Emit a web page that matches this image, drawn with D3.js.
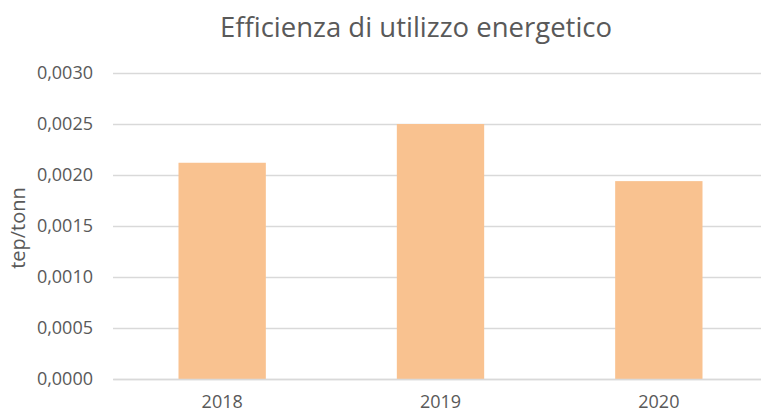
<!DOCTYPE html>
<html>
<head>
<meta charset="utf-8">
<script src="https://cdn.jsdelivr.net/npm/d3@7"></script>
<style>
  html, body { margin: 0; padding: 0; background: #fff; }
  svg { display: block; }
  text { font-family: "Open Sans", sans-serif; fill: #595959; }
</style>
</head>
<body>
<svg id="chart" width="761" height="412"></svg>
<script>
const categories = ["2018", "2019", "2020"];
const values = [0.00212, 0.00250, 0.00194];
const yTicks = [0, 0.0005, 0.0010, 0.0015, 0.0020, 0.0025, 0.0030];
const title = "Efficienza di utilizzo energetico";
const yLabel = "tep/tonn";

const svg = d3.select("#chart");
const mLeft = 113, mRight = 768, mTop = 73, mBottom = 379;

const x = d3.scaleBand().domain(categories).range([mLeft, mRight]).paddingInner(0.6).paddingOuter(0.3);
const y = d3.scaleLinear().domain([0, 0.003]).range([mBottom, mTop]);
const fmt = v => v.toFixed(4).replace(".", ",");

// gridlines
svg.append("g")
  .attr("transform", `translate(${mLeft},0)`)
  .call(d3.axisLeft(y).tickValues(yTicks).tickSize(-(mRight - mLeft)).tickFormat(""))
  .call(g => g.select(".domain").remove())
  .call(g => g.selectAll("line").attr("stroke", "#d9d9d9").attr("stroke-width", 1.3));

// y tick labels
svg.append("g")
  .attr("transform", `translate(${mLeft - 20},0)`)
  .call(d3.axisLeft(y).tickValues(yTicks).tickSize(0).tickPadding(0).tickFormat(fmt))
  .call(g => g.select(".domain").remove())
  .call(g => g.selectAll("text").style("font-size", "18px").attr("fill", "#595959").attr("font-family", "Open Sans"));

// bars
svg.append("g").selectAll("rect").data(categories).join("rect")
  .attr("x", d => x(d))
  .attr("width", x.bandwidth())
  .attr("y", (d, i) => y(values[i]))
  .attr("height", (d, i) => y(0) - y(values[i]))
  .attr("fill", "#f9c290");

// x axis
svg.append("g")
  .attr("transform", `translate(0,${mBottom})`)
  .call(d3.axisBottom(x).tickSize(0).tickPadding(16))
  .call(g => g.select(".domain").attr("stroke", "#d9d9d9").attr("stroke-width", 1.3))
  .call(g => g.selectAll("text").style("font-size", "18px").attr("fill", "#595959").attr("font-family", "Open Sans"));

// title
svg.append("text")
  .attr("x", 416).attr("y", 37)
  .attr("text-anchor", "middle")
  .style("font-size", "27.5px")
  .text(title);

// y label
svg.append("text")
  .attr("transform", `translate(25,${(mTop + mBottom) / 2 + 2}) rotate(-90)`)
  .attr("text-anchor", "middle")
  .style("font-size", "20px")
  .text(yLabel);
</script>
</body>
</html>
